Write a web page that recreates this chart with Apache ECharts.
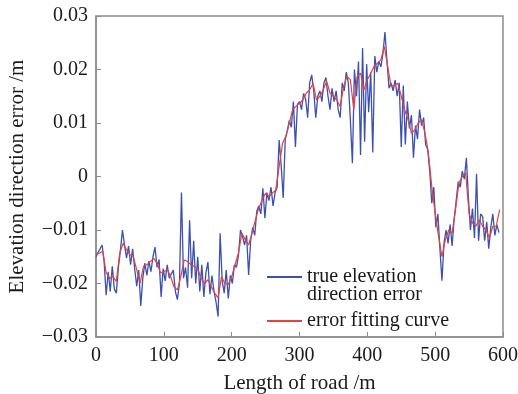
<!DOCTYPE html>
<html>
<head>
<meta charset="utf-8">
<script src="https://cdn.jsdelivr.net/npm/echarts@6/dist/echarts.min.js"></script>
<style>
  html, body { margin: 0; padding: 0; background: #fff; }
  #chart { width: 518px; height: 394px; }
</style>
</head>
<body>
<div id="chart"></div>
<script>
// measured error, one sample every 3 m from 0 m
var trueStep = 3;
var trueErr = [
  -0.0150, -0.0142, -0.0135, -0.0128, -0.0160, -0.0222, -0.0178, -0.0215, -0.0168, -0.0210,
  -0.0218, -0.0170, -0.0138, -0.0100, -0.0128, -0.0152, -0.0130, -0.0165, -0.0135, -0.0172,
  -0.0205, -0.0175, -0.0242, -0.0190, -0.0162, -0.0185, -0.0158, -0.0178, -0.0150, -0.0132,
  -0.0170, -0.0155, -0.0225, -0.0172, -0.0195, -0.0165, -0.0190, -0.0182, -0.0175, -0.0215,
  -0.0230, -0.0200, -0.0030, -0.0190, -0.0170, -0.0208, -0.0082, -0.0190, -0.0120, -0.0200,
  -0.0150, -0.0215, -0.0165, -0.0225, -0.0180, -0.0160, -0.0220, -0.0185, -0.0215, -0.0235,
  -0.0262, -0.0106, -0.0195, -0.0218, -0.0175, -0.0228, -0.0185, -0.0200, -0.0165, -0.0170,
  -0.0148, -0.0100, -0.0112, -0.0128, -0.0110, -0.0184, -0.0120, -0.0095, -0.0110, -0.0065,
  -0.0055, -0.0070, -0.0022, -0.0078, -0.0030, -0.0045, -0.0020, -0.0055, -0.0030, -0.0020,
  0.0068, 0.0020, -0.0040, 0.0070, 0.0085, 0.0105, 0.0092, 0.0140, 0.0055, 0.0135,
  0.0140, 0.0125, 0.0155, 0.0145, 0.0110, 0.0175, 0.0190, 0.0160, 0.0110, 0.0150,
  0.0160, 0.0140, 0.0175, 0.0185, 0.0150, 0.0125, 0.0165, 0.0140, 0.0160, 0.0125,
  0.0110, 0.0175, 0.0160, 0.0195, 0.0175, 0.0105, 0.0025, 0.0200, 0.0150, 0.0215,
  0.0040, 0.0240, 0.0065, 0.0210, 0.0120, 0.0195, 0.0045, 0.0225, 0.0195, 0.0215,
  0.0205, 0.0230, 0.0270, 0.0215, 0.0165, 0.0175, 0.0160, 0.0180, 0.0150, 0.0175,
  0.0055, 0.0170, 0.0060, 0.0140, 0.0090, 0.0115, 0.0035, 0.0095, 0.0070, 0.0125,
  0.0095, 0.0110, 0.0060, 0.0050, 0.0010, -0.0050, -0.0020, -0.0095, -0.0070, -0.0135,
  -0.0195, -0.0125, -0.0100, -0.0125, -0.0090, -0.0130, -0.0080, -0.0045, -0.0010, -0.0020,
  0.0010, -0.0005, 0.0035, -0.0040, -0.0100, -0.0060, -0.0115, 0.0005, -0.0120, -0.0070,
  -0.0075, -0.0120, -0.0085, -0.0135, -0.0095, -0.0070, -0.0110, -0.0090, -0.0105
];

// fitted curve, one sample every 5 m from 0 m
var fitStep = 5;
var fitErr = [
  -0.0146, -0.0143, -0.0140, -0.0180, -0.0190, -0.0187, -0.0196, -0.0143, -0.0125, -0.0137,
  -0.0146, -0.0150, -0.0174, -0.0200, -0.0168, -0.0165, -0.0159, -0.0153, -0.0162, -0.0180,
  -0.0178, -0.0174, -0.0187, -0.0206, -0.0212, -0.0187, -0.0156, -0.0159, -0.0165, -0.0168,
  -0.0174, -0.0190, -0.0200, -0.0193, -0.0206, -0.0218, -0.0227, -0.0187, -0.0200, -0.0202,
  -0.0187, -0.0165, -0.0143, -0.0106, -0.0118, -0.0128, -0.0106, -0.0081, -0.0059, -0.0044,
  -0.0031, -0.0037, -0.0031, -0.0025, 0.0019, 0.0062, 0.0075, 0.0100, 0.0125, 0.0131,
  0.0137, 0.0143, 0.0156, 0.0162, 0.0174, 0.0143, 0.0150, 0.0162, 0.0178, 0.0156,
  0.0150, 0.0143, 0.0131, 0.0168, 0.0187, 0.0181, 0.0125, 0.0187, 0.0193, 0.0162,
  0.0181, 0.0193, 0.0206, 0.0212, 0.0218, 0.0243, 0.0206, 0.0168, 0.0171, 0.0174,
  0.0150, 0.0125, 0.0106, 0.0081, 0.0087, 0.0100, 0.0106, 0.0081, 0.0044, -0.0019,
  -0.0069, -0.0112, -0.0150, -0.0118, -0.0100, -0.0106, -0.0062, -0.0012, 0.0000, 0.0006,
  -0.0069, -0.0087, -0.0093, -0.0081, -0.0093, -0.0100, -0.0115, -0.0093, -0.0093, -0.0062
];

var seriesNames = ['true elevation\ndirection error', 'error fitting curve'];

function toPairs(vals, step) {
  var out = [];
  for (var i = 0; i < vals.length; i++) out.push([i * step, vals[i]]);
  return out;
}

var font = '"Liberation Serif", "DejaVu Serif", serif';
var frame = '#8c8c8c';
var ink = '#1a1a1a';

var chart = echarts.init(document.getElementById('chart'));
chart.setOption({
  backgroundColor: '#fff',
  animation: false,
  grid: {
    left: 96, top: 16, width: 407, height: 321,
    outerBoundsMode: 'none',
    show: true, borderColor: frame, borderWidth: 1.5, backgroundColor: 'transparent'
  },
  legend: {
    orient: 'vertical',
    left: 267, top: 249,
    padding: 0,
    itemGap: 6,
    itemWidth: 35,
    itemHeight: 2,
    icon: 'rect',
    textStyle: { fontFamily: font, fontSize: 20, color: ink, lineHeight: 18 },
    // blank first line so the icon sits beside "true elevation"
    formatter: function(name) {
      return name === seriesNames[0] ? ' \n' + name : name;
    },
    data: seriesNames
  },
  xAxis: {
    type: 'value',
    min: 0, max: 600, interval: 100,
    name: 'Length of road /m',
    nameLocation: 'middle',
    nameGap: 36,
    nameTextStyle: { fontFamily: font, fontSize: 21, color: ink },
    axisLine: { show: true, onZero: false, lineStyle: { color: frame, width: 1.5 } },
    axisTick: { show: true, inside: true, length: 5, lineStyle: { color: frame } },
    axisLabel: { fontFamily: font, fontSize: 20, color: ink, margin: 9 },
    splitLine: { show: false }
  },
  yAxis: {
    type: 'value',
    min: -0.03, max: 0.03, interval: 0.01,
    name: 'Elevation direction error /m',
    nameLocation: 'middle',
    nameGap: 68,
    nameTextStyle: { fontFamily: font, fontSize: 21, color: ink },
    axisLine: { show: true, onZero: false, lineStyle: { color: frame, width: 1.5 } },
    axisTick: { show: true, inside: true, length: 5, lineStyle: { color: frame } },
    axisLabel: {
      fontFamily: font, fontSize: 20, color: ink, margin: 8,
      formatter: function(v) {
        if (Math.abs(v) < 1e-9) return '0';
        var s = Math.abs(v).toFixed(2);
        return v < 0 ? '\u2212' + s : s;
      }
    },
    splitLine: { show: false }
  },
  series: [{
    name: seriesNames[0],
    type: 'line',
    symbol: 'none',
    color: '#3b50b0',
    lineStyle: { width: 1.3, color: '#3b50b0' },
    data: toPairs(trueErr, trueStep)
  }, {
    name: seriesNames[1],
    type: 'line',
    symbol: 'none',
    color: '#e8413c',
    lineStyle: { width: 1.2, color: '#e8413c' },
    data: toPairs(fitErr, fitStep)
  }]
});
</script>
</body>
</html>
